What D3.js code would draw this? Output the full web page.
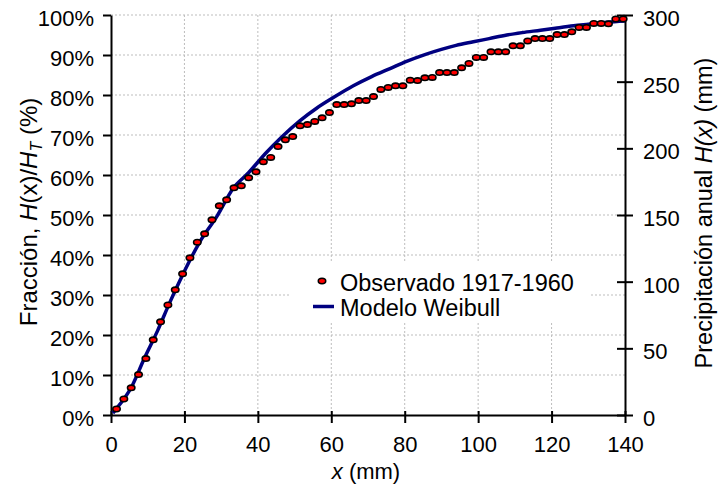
<!DOCTYPE html>
<html>
<head>
<meta charset="utf-8">
<script src="https://cdn.jsdelivr.net/npm/d3@7"></script>
<style>
  body { margin: 0; background: #fff; }
  text { font-family: "Liberation Sans", Arial, sans-serif; fill: #000; }
</style>
</head>
<body>
<script>
// observed fraction (%) vs x (mm), 1917-1960
var obsX = [1.5, 3.5, 5.5, 7.5, 9.5, 11.5, 13.5, 15.5, 17.5, 19.5,
  21.5, 23.5, 25.5, 27.5, 29.5, 31.5, 33.5, 35.5, 37.5, 39.5,
  41.5, 43.5, 45.5, 47.5, 49.5, 51.5, 53.5, 55.5, 57.5, 59.5,
  61.5, 63.5, 65.5, 67.5, 69.5, 71.5, 73.5, 75.5, 77.5, 79.5,
  81.5, 83.5, 85.5, 87.5, 89.5, 91.5, 93.5, 95.5, 97.5, 99.5,
  101.5, 103.5, 105.5, 107.5, 109.5, 111.5, 113.5, 115.5, 117.5, 119.5,
  121.5, 123.5, 125.5, 127.5, 129.5, 131.5, 133.5, 135.5, 137.5, 139.5];
var obsY = [1.5, 4.0, 6.8, 10.1, 14.1, 18.8, 23.3, 27.5, 31.3, 35.3,
  39.3, 43.2, 45.3, 48.8, 52.3, 53.8, 56.8, 57.3, 59.3, 60.8,
  63.3, 64.4, 67.1, 68.8, 69.6, 72.3, 72.6, 73.4, 74.3, 75.6,
  77.6, 77.6, 77.8, 78.6, 78.6, 79.6, 81.4, 81.9, 82.3, 82.3,
  83.7, 83.6, 84.3, 84.4, 85.6, 85.6, 85.6, 86.8, 87.9, 89.4,
  89.4, 90.8, 90.8, 90.8, 92.3, 92.3, 93.5, 94.1, 94.1, 94.1,
  95.1, 95.1, 95.8, 96.9, 96.9, 97.9, 97.9, 97.8, 99.0, 99.0];

// Weibull model curve
var modelX = [0.5, 1.5, 5.7, 9.0, 12.7, 15.9, 19.7, 24.2, 28.8, 33.3, 37.4, 42, 46.5,
  51.5, 56, 61, 66, 71, 76, 80.5, 85.5, 90, 94, 98.7, 103, 107.8, 112, 117,
  121, 126, 130, 135, 140];
var modelY = [0.5, 1.6, 7.2, 14.0, 21.1, 27.9, 35.4, 43.3, 49.6, 56.7, 60.5, 65.3, 69.5,
  73.6, 76.7, 79.6, 82.3, 84.6, 86.6, 88.4, 90.1, 91.4, 92.4, 93.3, 94.1, 95.0, 95.6, 96.2,
  96.7, 97.3, 97.7, 98.2, 98.5];

var xTicks = [0, 20, 40, 60, 80, 100, 120, 140];
var pctTicks = [0, 10, 20, 30, 40, 50, 60, 70, 80, 90, 100];
var mmTicks = [0, 50, 100, 150, 200, 250, 300];

var W = 719, H = 486;
var pLeft = 111, pRight = 625, pTop = 15, pBottom = 415;

var svg = d3.select("body").append("svg")
  .attr("width", W).attr("height", H);

var x = d3.scaleLinear().domain([0, 140]).range([pLeft, pRight]);
var y = d3.scaleLinear().domain([0, 100]).range([pBottom, pTop]);
var yR = d3.scaleLinear().domain([0, 300]).range([pBottom, pTop]);

// dotted grid
svg.append("g").selectAll("line")
  .data(pctTicks.filter(function(d) { return d > 0; }))
  .enter().append("line")
  .attr("x1", pLeft).attr("x2", pRight)
  .attr("y1", function(d) { return y(d); }).attr("y2", function(d) { return y(d); })
  .attr("stroke", "#bdbdbd").attr("stroke-width", 1).attr("stroke-dasharray", "2,2");
svg.append("g").selectAll("line")
  .data(xTicks.filter(function(d) { return d > 0 && d < 140; }))
  .enter().append("line")
  .attr("x1", function(d) { return x(d); }).attr("x2", function(d) { return x(d); })
  .attr("y1", pTop).attr("y2", pBottom)
  .attr("stroke", "#bdbdbd").attr("stroke-width", 1).attr("stroke-dasharray", "2,2");

// legend background
svg.append("rect")
  .attr("x", 291).attr("y", 263).attr("width", 298).attr("height", 59)
  .attr("fill", "#fff");

// axes
var fs = "22px";
var gx = svg.append("g").attr("transform", "translate(0," + pBottom + ")")
  .call(d3.axisBottom(x).tickValues(xTicks).tickSizeInner(8).tickSizeOuter(0).tickPadding(13));
gx.selectAll(".tick line").attr("y1", -4);

var gy = svg.append("g").attr("transform", "translate(" + pLeft + ",0)")
  .call(d3.axisLeft(y).tickValues(pctTicks).tickSizeInner(8).tickSizeOuter(0).tickPadding(9)
    .tickFormat(function(d) { return d + "%"; }));

var gr = svg.append("g").attr("transform", "translate(" + pRight + ",0)")
  .call(d3.axisRight(yR).tickValues(mmTicks).tickSizeInner(8).tickSizeOuter(0).tickPadding(10));
gr.selectAll(".tick line").attr("x1", -8);

[gx, gy, gr].forEach(function(g) {
  g.select(".domain").attr("stroke", "#000").attr("stroke-width", 2);
  g.selectAll(".tick line").attr("stroke", "#000").attr("stroke-width", 2);
  g.selectAll(".tick text")
    .style("font-family", '"Liberation Sans", Arial, sans-serif')
    .style("font-size", fs).attr("fill", "#000");
});
// labels sit a little below their ticks, as in the original
gy.selectAll(".tick text").attr("dy", "0.48em");
gr.selectAll(".tick text").attr("dy", "0.48em");

// model line
var line = d3.line()
  .curve(d3.curveMonotoneX)
  .x(function(d) { return x(d[0]); })
  .y(function(d) { return y(d[1]); });
svg.append("path")
  .datum(modelX.map(function(v, i) { return [v, modelY[i]]; }))
  .attr("d", line)
  .attr("fill", "none").attr("stroke", "#000080").attr("stroke-width", 3.5);

// observed points
svg.append("g").selectAll("ellipse")
  .data(obsX.map(function(v, i) { return [v, obsY[i]]; }))
  .enter().append("ellipse")
  .attr("cx", function(d) { return x(d[0]); })
  .attr("cy", function(d) { return y(d[1]); })
  .attr("rx", 3.7).attr("ry", 2.7)
  .attr("fill", "#ff0000").attr("stroke", "#000").attr("stroke-width", 1.6);

// legend
var leg = svg.append("g").style("font-size", "23.5px");
leg.append("ellipse").attr("cx", 322).attr("cy", 281).attr("rx", 3.7).attr("ry", 2.7)
  .attr("fill", "#ff0000").attr("stroke", "#000").attr("stroke-width", 1.6);
leg.append("text").attr("x", 340).attr("y", 291).text("Observado 1917-1960");
leg.append("line").attr("x1", 313).attr("x2", 334).attr("y1", 306.5).attr("y2", 306.5)
  .attr("stroke", "#000080").attr("stroke-width", 3.5);
leg.append("text").attr("x", 340).attr("y", 316).text("Modelo Weibull");

// axis titles
var tl = svg.append("text")
  .attr("transform", "translate(37,212) rotate(-90)")
  .attr("text-anchor", "middle").style("font-size", "24px");
tl.append("tspan").text("Fracción, ");
tl.append("tspan").style("font-style", "italic").text("H");
tl.append("tspan").text("(x)/");
tl.append("tspan").style("font-style", "italic").text("H");
tl.append("tspan").style("font-style", "italic").style("font-size", "16px").attr("dy", 5).text("T");
tl.append("tspan").attr("dy", -5).text(" (%)");

var tr = svg.append("text")
  .attr("transform", "translate(712,213) rotate(-90)")
  .attr("text-anchor", "middle").style("font-size", "23.5px");
tr.append("tspan").text("Precipitación anual ");
tr.append("tspan").style("font-style", "italic").text("H(x)");
tr.append("tspan").text(" (mm)");

var tb = svg.append("text")
  .attr("x", 366).attr("y", 479)
  .attr("text-anchor", "middle").style("font-size", "22px");
tb.append("tspan").style("font-style", "italic").text("x");
tb.append("tspan").text(" (mm)");
</script>
</body>
</html>
